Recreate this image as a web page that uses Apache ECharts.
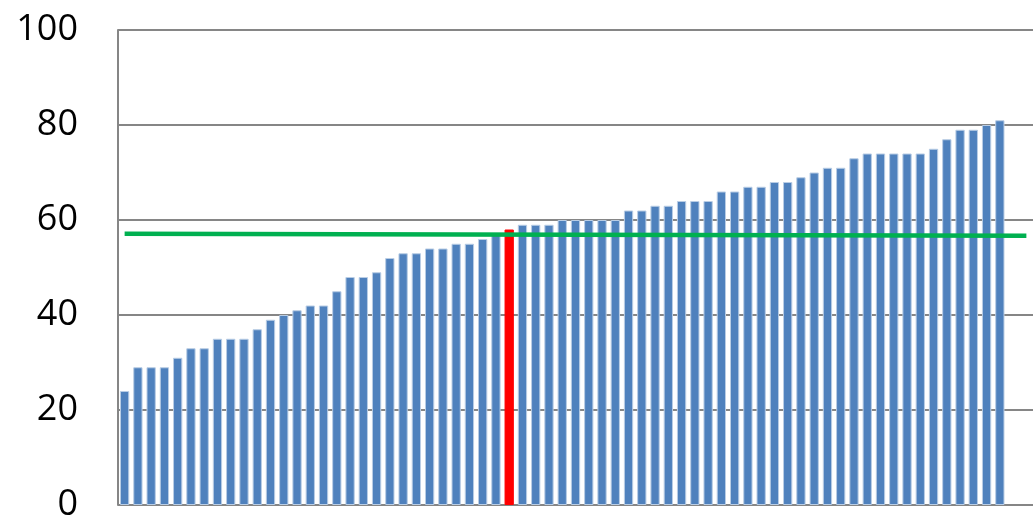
<!DOCTYPE html>
<html>
<head>
<meta charset="utf-8">
<script src="https://cdn.jsdelivr.net/npm/echarts@6/dist/echarts.min.js"></script>
<style>html,body{margin:0;padding:0;background:#fff}#main{width:1033px;height:523px}</style>
</head>
<body>
<div id="main"></div>
<script>
var values = [24, 29, 29, 29, 31, 33, 33, 35, 35, 35, 37, 39, 40, 41, 42, 42, 45, 48, 48, 49,
  52, 53, 53, 54, 54, 55, 55, 56, 57, 58,
  59, 59, 59, 60, 60, 60, 60, 60, 62, 62, 63, 63, 64, 64, 64, 66, 66, 67, 67, 68,
  68, 69, 70, 71, 71, 73, 74, 74, 74, 74, 74, 75, 77, 79, 79, 80, 81];
var highlightIndex = 29;   // red bar
var refLine = [57.1, 56.7];  // green line, left and right ends
var yTicks = [0, 20, 40, 60, 80, 100];

var categories = [];
var barData = [];
for (var i = 0; i < values.length + 2; i++) {
  categories.push('c' + i);
  if (i >= values.length) { barData.push(null); continue; }
  if (i === highlightIndex) barData.push({value: values[i], itemStyle: {color: '#ff0000', borderColor: '#ff0000'}});
  else barData.push(values[i]);
}

var myChart = echarts.init(document.getElementById('main'));
var option = {
  animation: false,
  grid: {left: 118, right: -7, top: 30, bottom: 16},
  xAxis: {
    type: 'category',
    data: categories,
    axisLabel: {show: false},
    axisTick: {show: false},
    axisLine: {show: false}
  },
  yAxis: {
    type: 'value',
    min: yTicks[0], max: yTicks[yTicks.length - 1], interval: 20,
    axisLine: {show: true, lineStyle: {color: '#868686', width: 2}},
    axisLabel: {color: '#000', fontSize: 36, fontFamily: 'Open Sans, sans-serif', margin: 40},
    splitLine: {lineStyle: {color: '#868686', width: 2}}
  },
  series: [{
    type: 'bar',
    data: barData,
    barCategoryGap: '30%',
    itemStyle: {color: '#4f81bd', borderColor: '#b9cde5', borderWidth: 1},
    markLine: {
      symbol: 'none', silent: true, label: {show: false},
      lineStyle: {color: '#00b050', width: 4.5, type: 'solid'},
      data: [[{coord: [0, refLine[0]]}, {coord: [categories.length - 1, refLine[1]]}]]
    }
  }]
};
myChart.setOption(option);
</script>
</body>
</html>
